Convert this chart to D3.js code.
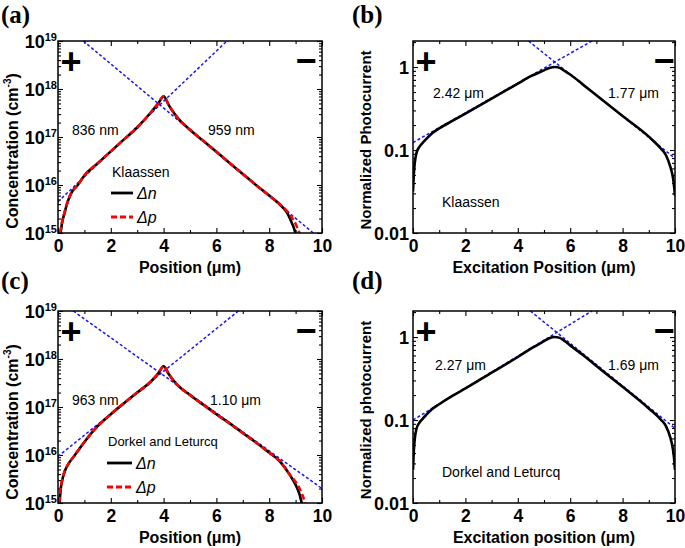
<!DOCTYPE html>
<html><head><meta charset="utf-8">
<script src="https://cdn.jsdelivr.net/npm/d3@7"></script>
<style>body{margin:0;background:#fff} svg{display:block}</style>
</head><body><svg id="chart" width="685" height="548"></svg>
<script>
// ---------- DATA ----------
const xMajorTicks = [0, 2, 4, 6, 8, 10];
const xMinorTicks = [1, 3, 5, 7, 9];
const concMajorTicks = [1e15, 1e16, 1e17, 1e18, 1e19];
const concTickExponents = ["15", "16", "17", "18", "19"];
const pcMajorTicks = [0.01, 0.1, 1];
const pcTickLabels = ["0.01", "0.1", "1"];

// (a) Klaassen: electron (Δn) and hole (Δp) concentration
const aNx = [0.1, 0.15, 0.25, 0.35, 0.5, 0.75, 1.0, 1.5, 2.0, 2.5, 3.0, 3.5, 3.8, 4.0, 4.2, 4.5, 5.0, 5.5, 6.0, 6.5, 7.0, 7.5, 8.0, 8.5, 8.7, 8.85, 8.95, 9.0];
const aNy = [1e15, 1.58e15, 2.63e15, 4.17e15, 6.76e15, 1e16, 1.58e16, 2.82e16, 5.01e16, 8.91e16, 1.58e17, 3.16e17, 5.01e17, 7.08e17, 4.57e17, 2.63e17, 1.41e17, 8.32e16, 4.9e16, 2.88e16, 1.7e16, 1e16, 6.03e15, 3.47e15, 2.51e15, 1.66e15, 1.2e15, 9.5e14];
const aPx = [0.08, 0.15, 0.25, 0.35, 0.5, 0.75, 1.0, 1.5, 2.0, 2.5, 3.0, 3.5, 3.8, 4.0, 4.2, 4.5, 5.0, 5.5, 6.0, 6.5, 7.0, 7.5, 8.0, 8.5, 8.7, 8.9, 9.05, 9.16];
const aPy = [1e15, 1.66e15, 2.69e15, 4.27e15, 6.76e15, 1e16, 1.58e16, 2.82e16, 5.01e16, 8.91e16, 1.58e17, 3.16e17, 5.01e17, 7.08e17, 4.57e17, 2.63e17, 1.41e17, 8.32e16, 4.9e16, 2.88e16, 1.7e16, 1e16, 6.03e15, 3.55e15, 2.75e15, 1.95e15, 1.35e15, 9.5e14];
const aFitLx = [0, 6.4], aFitLy = [4.47e15, 1e19];
const aFitRx = [0.96, 9.67], aFitRy = [1e19, 1e15];

// (c) Dorkel and Leturcq
const cNx = [0.06, 0.1, 0.15, 0.25, 0.4, 0.6, 0.8, 1.0, 1.5, 2.0, 2.5, 3.0, 3.5, 3.8, 4.0, 4.2, 4.5, 5.0, 5.5, 6.0, 6.5, 7.0, 7.5, 8.0, 8.4, 8.8, 9.0, 9.15, 9.24];
const cNy = [1e15, 1.91e15, 2.82e15, 4.47e15, 6.61e15, 9.33e15, 1.32e16, 1.86e16, 3.98e16, 7.08e16, 1.2e17, 2e17, 3.31e17, 5.01e17, 7.08e17, 4.79e17, 2.95e17, 1.78e17, 1.12e17, 7.08e16, 4.57e16, 2.88e16, 1.82e16, 1.12e16, 7.41e15, 3.72e15, 2.4e15, 1.51e15, 9.5e14];
const cPx = [0.05, 0.1, 0.15, 0.25, 0.4, 0.6, 0.8, 1.0, 1.5, 2.0, 2.5, 3.0, 3.5, 3.8, 4.0, 4.2, 4.5, 5.0, 5.5, 6.0, 6.5, 7.0, 7.5, 8.0, 8.4, 8.8, 9.05, 9.25, 9.38];
const cPy = [1e15, 1.95e15, 2.88e15, 4.57e15, 6.61e15, 9.33e15, 1.32e16, 1.86e16, 3.98e16, 7.08e16, 1.2e17, 2e17, 3.31e17, 5.01e17, 7.08e17, 4.79e17, 2.95e17, 1.78e17, 1.12e17, 7.08e16, 4.57e16, 2.88e16, 1.82e16, 1.12e16, 7.41e15, 3.8e15, 2.51e15, 1.51e15, 9.5e14];
const cFitLx = [0, 6.83], cFitLy = [9.33e15, 1e19];
const cFitRx = [0.58, 10], cFitRy = [1e19, 2.0e15];

// (b) Klaassen: normalized photocurrent
const bX = [0, 0.03, 0.07, 0.13, 0.25, 0.35, 0.5, 0.72, 1.0, 1.5, 2.0, 3.0, 4.0, 4.5, 5.0, 5.2, 5.43, 5.6, 5.8, 6.0, 6.5, 7.0, 8.0, 9.0, 9.45, 9.65, 9.82, 9.92, 9.97, 10.0];
const bY = [0.0316, 0.0501, 0.0708, 0.0912, 0.110, 0.120, 0.135, 0.158, 0.182, 0.224, 0.275, 0.417, 0.631, 0.776, 0.912, 0.977, 1.0, 0.977, 0.891, 0.813, 0.610, 0.457, 0.257, 0.145, 0.105, 0.0871, 0.0631, 0.0468, 0.0355, 0.0282];
const bFitLx = [0, 6.83], bFitLy = [0.123, 2.06];
const bFitRx = [4.41, 10], bFitRy = [2.06, 0.0794];

// (d) Dorkel and Leturcq: normalized photocurrent
const dX = [0, 0.03, 0.07, 0.13, 0.25, 0.35, 0.5, 0.72, 1.0, 1.5, 2.0, 3.0, 4.0, 4.5, 5.0, 5.2, 5.4, 5.6, 5.8, 6.0, 6.5, 7.0, 8.0, 9.0, 9.45, 9.65, 9.82, 9.92, 9.97, 10.0];
const dY = [0.0251, 0.0417, 0.0603, 0.0776, 0.0933, 0.102, 0.115, 0.135, 0.155, 0.195, 0.240, 0.372, 0.575, 0.724, 0.891, 0.966, 1.0, 0.977, 0.891, 0.794, 0.603, 0.447, 0.251, 0.138, 0.102, 0.0851, 0.0617, 0.0447, 0.0331, 0.0251];
const dFitLx = [0, 6.83], dFitLy = [0.1, 2.06];
const dFitRx = [4.48, 10], dFitRy = [2.06, 0.0794];

// ---------- DRAW ----------
const svg = d3.select("#chart");
const SANS = "'Liberation Sans', Arial, sans-serif";
const SERIF = "'Liberation Serif', 'Times New Roman', serif";
const zip = (xs, ys) => xs.map((x, i) => [x, ys[i]]);

function logMinors(lo, hi) {
  const out = [];
  for (let k = Math.floor(Math.log10(lo)); k <= Math.ceil(Math.log10(hi)); k++) {
    for (let m = 2; m <= 9; m++) { const v = m * Math.pow(10, k); if (v > lo && v < hi) out.push(v); }
  }
  return out;
}

function panel(cfg) {
  const {x0, x1, y0, y1, yDomain, id} = cfg;
  const x = d3.scaleLinear().domain([0, 10]).range([x0, x1]);
  const y = d3.scaleLog().domain(yDomain).range([y1, y0]);
  const g = svg.append("g");
  const clipId = "clip-" + id;
  svg.append("clipPath").attr("id", clipId).append("rect")
    .attr("x", x0).attr("y", y0).attr("width", x1 - x0).attr("height", y1 - y0);

  const yMinor = logMinors(yDomain[0], yDomain[1]);
  const strip = s => s.select(".domain").remove();
  // bottom
  g.append("g").attr("transform", `translate(0,${y1})`)
    .call(d3.axisBottom(x).tickValues(xMajorTicks).tickSize(-5).tickPadding(7).tickFormat(d3.format("d")))
    .call(strip)
    .call(s => s.selectAll("text").attr("font-family", SANS).attr("font-size", 17.5).attr("font-weight", "bold").attr("fill", "#000"));
  g.append("g").attr("transform", `translate(0,${y1})`)
    .call(d3.axisBottom(x).tickValues(xMinorTicks).tickSize(-3).tickFormat("")).call(strip);
  // top
  g.append("g").attr("transform", `translate(0,${y0})`)
    .call(d3.axisTop(x).tickValues(xMajorTicks).tickSize(-5).tickFormat("")).call(strip);
  g.append("g").attr("transform", `translate(0,${y0})`)
    .call(d3.axisTop(x).tickValues(xMinorTicks).tickSize(-3).tickFormat("")).call(strip);
  // left
  const left = g.append("g").attr("transform", `translate(${x0},0)`)
    .call(d3.axisLeft(y).tickValues(cfg.yMajor).tickSize(-5).tickPadding(cfg.yPad).tickFormat((d, i) => cfg.yLabel(i)))
    .call(strip);
  left.selectAll("text").attr("font-family", SANS).attr("font-size", 18).attr("font-weight", "bold").attr("fill", "#000").attr("dy", "0.38em");
  if (cfg.yExp) {
    left.selectAll(".tick text").append("tspan").attr("font-size", 11).attr("dy", -7)
      .text((d, i) => cfg.yExp[i]);
  }
  g.append("g").attr("transform", `translate(${x0},0)`)
    .call(d3.axisLeft(y).tickValues(yMinor).tickSize(-3).tickFormat("")).call(strip);
  // right
  g.append("g").attr("transform", `translate(${x1},0)`)
    .call(d3.axisRight(y).tickValues(cfg.yMajor).tickSize(-5).tickFormat("")).call(strip);
  g.append("g").attr("transform", `translate(${x1},0)`)
    .call(d3.axisRight(y).tickValues(yMinor).tickSize(-3).tickFormat("")).call(strip);
  g.selectAll(".tick line").attr("stroke", "#000").attr("stroke-width", 1.1);

  // data
  const line = d3.line().x(d => x(d[0])).y(d => y(d[1]));
  const smooth = d3.line().x(d => x(d[0])).y(d => y(d[1])).curve(d3.curveMonotoneX);
  const dg = g.append("g").attr("clip-path", `url(#${clipId})`);
  cfg.fits.forEach(f => dg.append("path").attr("d", line(f)).attr("fill", "none")
    .attr("stroke", "#1515ff").attr("stroke-width", 1.5).attr("stroke-dasharray", "3,2.2"));
  dg.append("path").attr("d", smooth(cfg.nLine)).attr("fill", "none")
    .attr("stroke", "#000").attr("stroke-width", 2.6);
  if (cfg.pLine) dg.append("path").attr("d", smooth(cfg.pLine)).attr("fill", "none")
    .attr("stroke", "#f00").attr("stroke-width", 2.6).attr("stroke-dasharray", "6,3");

  // frame
  g.append("rect").attr("x", x0).attr("y", y0).attr("width", x1 - x0).attr("height", y1 - y0)
    .attr("fill", "none").attr("stroke", "#000").attr("stroke-width", 1.5);

  // panel label
  svg.append("text").attr("x", cfg.lx).attr("y", cfg.ly).attr("font-family", SERIF)
    .attr("font-weight", "bold").attr("font-size", 25).text(`(${id})`);

  // axis titles
  svg.append("text").attr("x", (x0 + x1) / 2).attr("y", y1 + 40).attr("text-anchor", "middle")
    .attr("font-family", SANS).attr("font-weight", "bold").attr("font-size", 16).text(cfg.xTitle);
  const yt = svg.append("text").attr("transform", `translate(${cfg.ytx},${cfg.yty}) rotate(-90)`)
    .attr("text-anchor", "middle").attr("font-family", SANS).attr("font-weight", "bold").attr("font-size", cfg.ytSize);
  yt.append("tspan").text(cfg.yTitle[0]);
  if (cfg.yTitle.length > 1) {
    yt.append("tspan").attr("font-size", 10).attr("dy", -7).text(cfg.yTitle[1]);
    yt.append("tspan").attr("dy", 7).text(cfg.yTitle[2]);
  }

  // + and − markers
  svg.append("text").attr("x", x0 + 13).attr("y", y0 + 33).attr("text-anchor", "middle")
    .attr("font-family", SANS).attr("font-weight", "bold").attr("font-size", 36).text("+");
  svg.append("text").attr("x", x1 - cfg.minusOff).attr("y", y0 + 32).attr("text-anchor", "middle")
    .attr("font-family", SANS).attr("font-weight", "bold").attr("font-size", 36).text("\u2212");

  // annotations
  cfg.notes.forEach(n => svg.append("text").attr("x", n[0]).attr("y", n[1]).attr("font-family", SANS)
    .attr("font-size", n[3] || 14).text(n[2]));

  // legend
  if (cfg.legend) {
    const [lx0, lx1, ly] = cfg.legend;
    svg.append("line").attr("x1", lx0).attr("x2", lx1).attr("y1", ly).attr("y2", ly)
      .attr("stroke", "#000").attr("stroke-width", 2.8);
    svg.append("line").attr("x1", lx0).attr("x2", lx1).attr("y1", ly + 24).attr("y2", ly + 24)
      .attr("stroke", "#f00").attr("stroke-width", 2.8).attr("stroke-dasharray", "6,3");
    svg.append("text").attr("x", lx1 + 4).attr("y", ly + 6).attr("font-family", SANS)
      .attr("font-style", "italic").attr("font-size", 16).text("\u0394n");
    svg.append("text").attr("x", lx1 + 4).attr("y", ly + 30).attr("font-family", SANS)
      .attr("font-style", "italic").attr("font-size", 16).text("\u0394p");
  }
}

const concLabel = i => "10";
const pcLabel = i => pcTickLabels[i];

panel({id: "a", x0: 58, x1: 322, y0: 41, y1: 233, yDomain: [1e15, 1e19], yMajor: concMajorTicks,
  yLabel: concLabel, yExp: concTickExponents, yPad: 1, minusOff: 16,
  nLine: zip(aNx, aNy), pLine: zip(aPx, aPy), fits: [zip(aFitLx, aFitLy), zip(aFitRx, aFitRy)],
  lx: 1, ly: 23, xTitle: "Position (\u03bcm)", yTitle: ["Concentration (cm", "-3", ")"], ytx: 18, yty: 151, ytSize: 16,
  notes: [[72, 135, "836 nm"], [208, 135, "959 nm"], [112, 177, "Klaassen"]], legend: [111, 133, 193]});

panel({id: "b", x0: 413, x1: 675, y0: 41, y1: 233, yDomain: [0.01, 2.06], yMajor: pcMajorTicks,
  yLabel: pcLabel, yPad: 4, minusOff: 11,
  nLine: zip(bX, bY), fits: [zip(bFitLx, bFitLy), zip(bFitRx, bFitRy)],
  lx: 352, ly: 23, xTitle: "Excitation Position (\u03bcm)", yTitle: ["Normalized Photocurrent"], ytx: 371, yty: 140, ytSize: 15,
  notes: [[433, 98, "2.42 \u03bcm"], [608, 98, "1.77 \u03bcm"], [442, 207, "Klaassen"]]});

panel({id: "c", x0: 58, x1: 322, y0: 311, y1: 503, yDomain: [1e15, 1e19], yMajor: concMajorTicks,
  yLabel: concLabel, yExp: concTickExponents, yPad: 1, minusOff: 16,
  nLine: zip(cNx, cNy), pLine: zip(cPx, cPy), fits: [zip(cFitLx, cFitLy), zip(cFitRx, cFitRy)],
  lx: 1, ly: 289, xTitle: "Position (\u03bcm)", yTitle: ["Concentration (cm", "-3", ")"], ytx: 18, yty: 422, ytSize: 16,
  notes: [[72, 405, "963 nm"], [210, 405, "1.10 \u03bcm"], [108, 446, "Dorkel and Leturcq", 13]], legend: [107, 132, 463]});

panel({id: "d", x0: 413, x1: 675, y0: 311, y1: 503, yDomain: [0.01, 2.06], yMajor: pcMajorTicks,
  yLabel: pcLabel, yPad: 4, minusOff: 11,
  nLine: zip(dX, dY), fits: [zip(dFitLx, dFitLy), zip(dFitRx, dFitRy)],
  lx: 352, ly: 289, xTitle: "Excitation position (\u03bcm)", yTitle: ["Normalized photocurrent"], ytx: 371, yty: 410, ytSize: 15,
  notes: [[435, 370, "2.27 \u03bcm"], [608, 370, "1.69 \u03bcm"], [442, 477, "Dorkel and Leturcq"]]});
</script>
</body></html>
